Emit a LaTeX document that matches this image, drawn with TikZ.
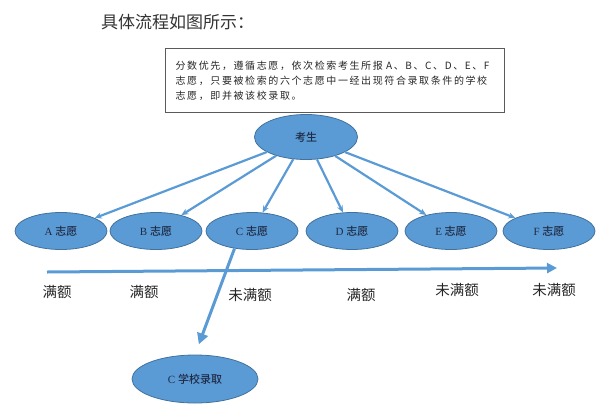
\documentclass[tikz,border=0pt]{standalone}
\usepackage{fontspec}
\setmainfont{Liberation Serif}
\newfontfamily\cjk{Noto Sans CJK SC}
\newfontfamily\cjkb{Noto Sans CJK SC Medium}
\newfontfamily\cjksp[LetterSpace=16]{Noto Sans CJK SC}
\usetikzlibrary{shapes.geometric,arrows.meta}
\definecolor{fillblue}{HTML}{5B9BD5}
\definecolor{edgeblue}{HTML}{41719C}
\definecolor{txtnavy}{HTML}{1F2A44}
\definecolor{boxgray}{HTML}{5A5A5A}
\begin{document}
\begin{tikzpicture}[x=1pt,y=-1pt,
  oval/.style={ellipse,draw=edgeblue,fill=fillblue,line width=0.8pt,inner sep=0pt,
    font=\fontsize{11}{13}\selectfont,text=txtnavy},
  choice/.style={oval,minimum width=92pt,minimum height=37pt},
  arr/.style={draw=fillblue,line width=2.2pt,-{Stealth[length=7pt,width=6pt]}},
  bigarr/.style={draw=fillblue,line width=3pt,-{Triangle[length=10pt,width=10pt]}},
  lbl/.style={font=\cjk\fontsize{14.5}{16}\selectfont,text=black!85}]
\useasboundingbox (0,0) rectangle (600,408);

\node[font=\cjk\fontsize{17}{19}\selectfont,text=black!80,anchor=west,inner sep=0pt] (title) at (101,22) {具体流程如图所示：};

\node[draw=boxgray,line width=1.3pt,anchor=north west,minimum width=339pt,minimum height=64pt,
  inner xsep=10pt,text width=319pt,align=left,font=\cjksp\fontsize{10}{15}\selectfont,text=black!85] (box) at (165,48)
  {分数优先，遵循志愿，依次检索考生所报 A、B、C、D、E、F\\志愿，只要被检索的六个志愿中一经出现符合录取条件的学校\\志愿，即并被该校录取。};

\node[oval,minimum width=103pt,minimum height=45pt] (ks) at (306,137) {\cjkb 考生};

\node[choice] (A) at (61,231) {A \cjkb 志愿};
\node[choice] (B) at (156,231) {B \cjkb 志愿};
\node[choice] (C) at (252,231) {C \cjkb 志愿};
\node[choice] (D) at (352,231) {D \cjkb 志愿};
\node[choice] (E) at (451,231) {E \cjkb 志愿};
\node[choice] (F) at (549,231) {F \cjkb 志愿};

\node[oval,minimum width=126pt,minimum height=48pt] (school) at (195,379) {C \cjkb 学校录取};

\foreach \t in {A,B,C,D,E,F} \draw[arr] (ks) -- (\t);

\coordinate (hs) at (47,272);
\coordinate (he) at (557,268);
\draw[bigarr] (hs) -- (he);

\draw[draw=fillblue,line width=3pt,-{Triangle[length=11pt,width=11pt]},shorten >=11pt] (C.225) -- (school.north);

\node[lbl] (l1) at (57,292) {满额};
\node[lbl] (l2) at (144,292) {满额};
\node[lbl] (l3) at (250,295) {未满额};
\node[lbl] (l4) at (361,295) {满额};
\node[lbl] (l5) at (457,290) {未满额};
\node[lbl] (l6) at (554,290) {未满额};
\end{tikzpicture}
\end{document}
